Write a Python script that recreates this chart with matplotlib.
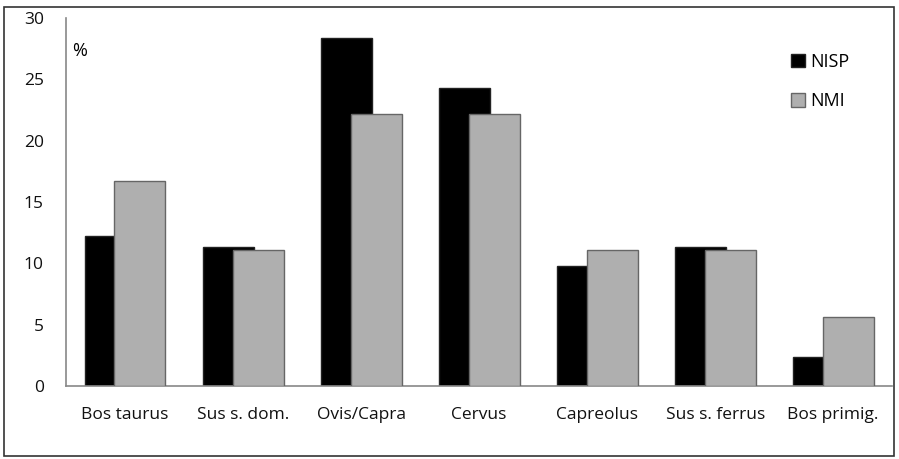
import numpy as np
import matplotlib.pyplot as plt
from matplotlib.patches import Rectangle

categories = ['Bos taurus', 'Sus s. dom.', 'Ovis/Capra', 'Cervus', 'Capreolus', 'Sus s. ferrus', 'Bos primig.']
nisp = [12.2, 11.3, 28.4, 24.3, 9.8, 11.3, 2.4]
nmi = [16.7, 11.1, 22.2, 22.2, 11.1, 11.1, 5.6]
yticks = [0, 5, 10, 15, 20, 25, 30]

plt.rcParams['font.family'] = ['Open Sans', 'DejaVu Sans']

fig = plt.figure(figsize=(8.99, 4.59), dpi=100)
fig.patches.append(Rectangle((0.005, 0.006), 0.989, 0.979, transform=fig.transFigure,
                             fill=False, edgecolor='#333333', linewidth=1.2))
ax = fig.add_axes([0.0734, 0.159, 0.919, 0.802])

x = np.arange(len(categories))
width = 0.432
offset = 0.127
ax.bar(x - offset, nisp, width, color='black', edgecolor='#222222', linewidth=1, label='NISP', zorder=2)
ax.bar(x + offset, nmi, width, color='#afafaf', edgecolor='#666666', linewidth=1, label='NMI', zorder=3)

ax.set_xlim(-0.5, len(categories) - 0.5)
ax.set_ylim(0, 30)
ax.set_yticks(yticks)
ax.set_xticks(x)
ax.set_xticklabels(categories)
ax.tick_params(axis='both', length=0, labelsize=12.5, colors='#111111')
ax.tick_params(axis='x', pad=15)
ax.tick_params(axis='y', pad=16)
for s in ['top', 'right']:
    ax.spines[s].set_visible(False)
for s in ['left', 'bottom']:
    ax.spines[s].set_color('#888888')
    ax.spines[s].set_linewidth(1.2)

ax.text(0.008, 0.91, '%', transform=ax.transAxes, fontsize=13, va='center', ha='left')

leg = ax.legend(loc='upper left', bbox_to_anchor=(0.858, 0.95), frameon=False, fontsize=13,
                handlelength=0.75, handleheight=0.75, handletextpad=0.3, labelspacing=1.2)

fig.savefig('out.png', dpi=100)
